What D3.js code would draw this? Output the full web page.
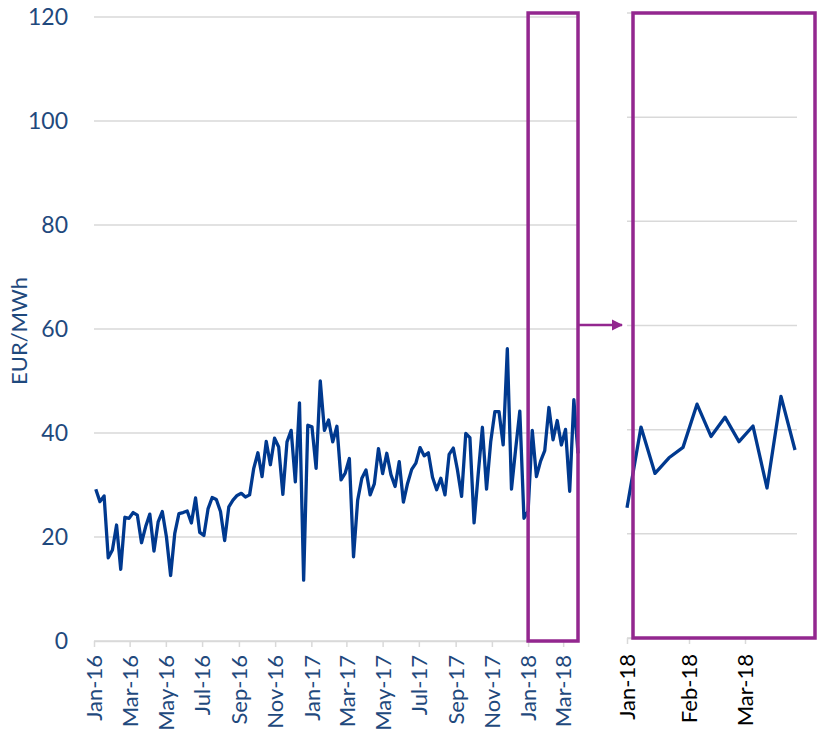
<!DOCTYPE html>
<html><head><meta charset="utf-8">
<script src="https://cdn.jsdelivr.net/npm/d3@7"></script>
<style>body{margin:0;background:#fff;} svg{display:block;}</style>
</head><body>
<svg id="c" width="817" height="732"></svg>
<script>
// weekly prices, EUR/MWh, Mondays from 4 Jan 2016 to 26 Mar 2018
const startDate = "2016-01-04";
const prices = [29.2,26.8,27.9,16.0,17.5,22.3,13.8,23.8,23.6,24.7,24.2,18.9,22.0,24.4,17.3,22.9,24.9,20.0,12.6,20.7,
24.5,24.7,25.0,22.7,27.5,20.9,20.3,25.4,27.6,27.2,24.9,19.3,25.8,27.1,28.0,28.4,27.7,28.1,33.2,36.2,
31.6,38.4,33.9,39.0,37.3,28.2,38.3,40.5,30.6,45.8,11.7,41.5,41.2,33.2,50.0,40.5,42.5,38.3,41.3,31.0,
32.3,35.1,16.2,27.1,31.3,32.9,28.1,30.2,37.0,32.2,36.1,32.0,29.7,34.5,26.7,30.3,33.0,34.2,37.2,35.6,
36.2,31.5,29.1,31.3,28.1,35.9,37.1,32.9,27.8,39.9,39.1,22.7,32.2,41.1,29.2,38.3,44.1,44.1,37.7,56.2,
29.2,36.9,44.2,23.6,25.0,40.5,31.6,34.6,36.6,44.9,38.7,42.4,37.7,40.7,28.8,46.4,36.1];
const yTicks = [0,20,40,60,80,100,120];
const tickFormat = "%b-%y";
const zoomStart = "2018-01-01";
const yTitle = "EUR/MWh";

const parse = d3.timeParse("%Y-%m-%d");
const d0 = parse(startDate);
const dates = prices.map((_, i) => d3.timeDay.offset(d0, 7 * i));
const data = prices.map((v, i) => ({date: dates[i], value: v}));
const zStart = parse(zoomStart);
const zoomData = data.filter(d => d.date >= zStart);

const svg = d3.select("#c");
const blue = "#00398F", purple = "#93278F", grid = "#d9d9d9", txt = "#1F497D";
const font = "Lato, 'Open Sans', sans-serif";

// scales
const xL = d3.scaleTime().domain([parse("2016-01-01"), dates[dates.length - 1]]).range([94, 578]);
const yL = d3.scaleLinear().domain([0, 120]).range([641, 17]);
const xR = d3.scaleTime().domain([zStart, d3.timeDay.offset(dates[dates.length - 1], 1)]).range([627, 797]);
const yR = d3.scaleLinear().domain([0, 120]).range([638, 13]);

// left gridlines
svg.append("g").selectAll("line").data(yTicks).join("line")
  .attr("x1", 94).attr("x2", 578).attr("y1", d => yL(d)).attr("y2", d => yL(d))
  .attr("stroke", grid).attr("stroke-width", 1.5);
// left y labels
svg.append("g").selectAll("text").data(yTicks).join("text")
  .attr("x", 68).attr("y", d => yL(d)).attr("dy", "0.35em").attr("text-anchor", "end")
  .attr("font-family", font).attr("font-size", 23).attr("fill", txt).text(d => d);
// y title
svg.append("text").attr("transform", "translate(27,331) rotate(-90)")
  .attr("text-anchor", "middle").attr("font-family", font).attr("font-size", 22)
  .attr("fill", txt).text(yTitle);

// left x axis
const xAxisL = d3.axisBottom(xL).ticks(d3.timeMonth.every(2)).tickFormat(d3.timeFormat(tickFormat)).tickSize(6).tickSizeOuter(0);
const gxL = svg.append("g").attr("transform", `translate(0,${yL(0)})`).call(xAxisL);
gxL.select(".domain").attr("stroke", grid).attr("stroke-width", 1.5);
gxL.selectAll(".tick line").attr("stroke", grid).attr("stroke-width", 1.5);
gxL.selectAll(".tick text").attr("font-family", font).attr("font-size", 22).attr("fill", txt)
  .attr("transform", "rotate(-90)").attr("text-anchor", "end").attr("x", -14).attr("y", 0).attr("dy", "0.35em");

// left line
const lineL = d3.line().x(d => xL(d.date)).y(d => yL(d.value));
svg.append("path").datum(data).attr("d", lineL).attr("fill", "none")
  .attr("stroke", blue).attr("stroke-width", 3.3).attr("stroke-linejoin", "round");

// right gridlines
svg.append("g").selectAll("line").data(yTicks).join("line")
  .attr("x1", 627).attr("x2", 797).attr("y1", d => yR(d)).attr("y2", d => yR(d))
  .attr("stroke", grid).attr("stroke-width", 1.5);
// right x axis
const xAxisR = d3.axisBottom(xR).ticks(d3.timeMonth.every(1)).tickFormat(d3.timeFormat(tickFormat)).tickSize(6).tickSizeOuter(0);
const gxR = svg.append("g").attr("transform", `translate(0,${yR(0)})`).call(xAxisR);
gxR.select(".domain").attr("stroke", grid).attr("stroke-width", 1.5);
gxR.selectAll(".tick line").attr("stroke", grid).attr("stroke-width", 1.5);
gxR.selectAll(".tick text").attr("font-family", font).attr("font-size", 22).attr("fill", "#000")
  .attr("transform", "rotate(-90)").attr("text-anchor", "end").attr("x", -16).attr("y", 0).attr("dy", "0.35em");

// right line
const lineR = d3.line().x(d => xR(d.date)).y(d => yR(d.value));
svg.append("path").datum(zoomData).attr("d", lineR).attr("fill", "none")
  .attr("stroke", blue).attr("stroke-width", 3.3).attr("stroke-linejoin", "round");

// highlight boxes
const lx0 = xL(zStart), lx1 = xL.range()[1];
const boxTop = yR(120), lbot = yL(0);
svg.append("rect").attr("x", lx0).attr("y", boxTop).attr("width", lx1 - lx0).attr("height", lbot - boxTop)
  .attr("fill", "none").attr("stroke", purple).attr("stroke-width", 3.5);
const rx0 = xR.range()[0] + 6, rx1 = 815;
svg.append("rect").attr("x", rx0).attr("y", boxTop).attr("width", rx1 - rx0).attr("height", yR(0) - boxTop)
  .attr("fill", "none").attr("stroke", purple).attr("stroke-width", 3.5);

// arrow
const ay = (boxTop + lbot) / 2 - 2;
svg.append("defs").append("marker").attr("id", "ah").attr("viewBox", "0 0 10 10")
  .attr("refX", 9).attr("refY", 5).attr("markerWidth", 4.5).attr("markerHeight", 4.5)
  .attr("markerUnits", "strokeWidth").attr("orient", "auto")
  .append("path").attr("d", "M0,0 L10,5 L0,10 Z").attr("fill", purple);
svg.append("line").attr("x1", lx1 + 1).attr("x2", rx0 - 11).attr("y1", ay).attr("y2", ay)
  .attr("stroke", purple).attr("stroke-width", 2.5).attr("marker-end", "url(#ah)");
</script>
</body></html>
